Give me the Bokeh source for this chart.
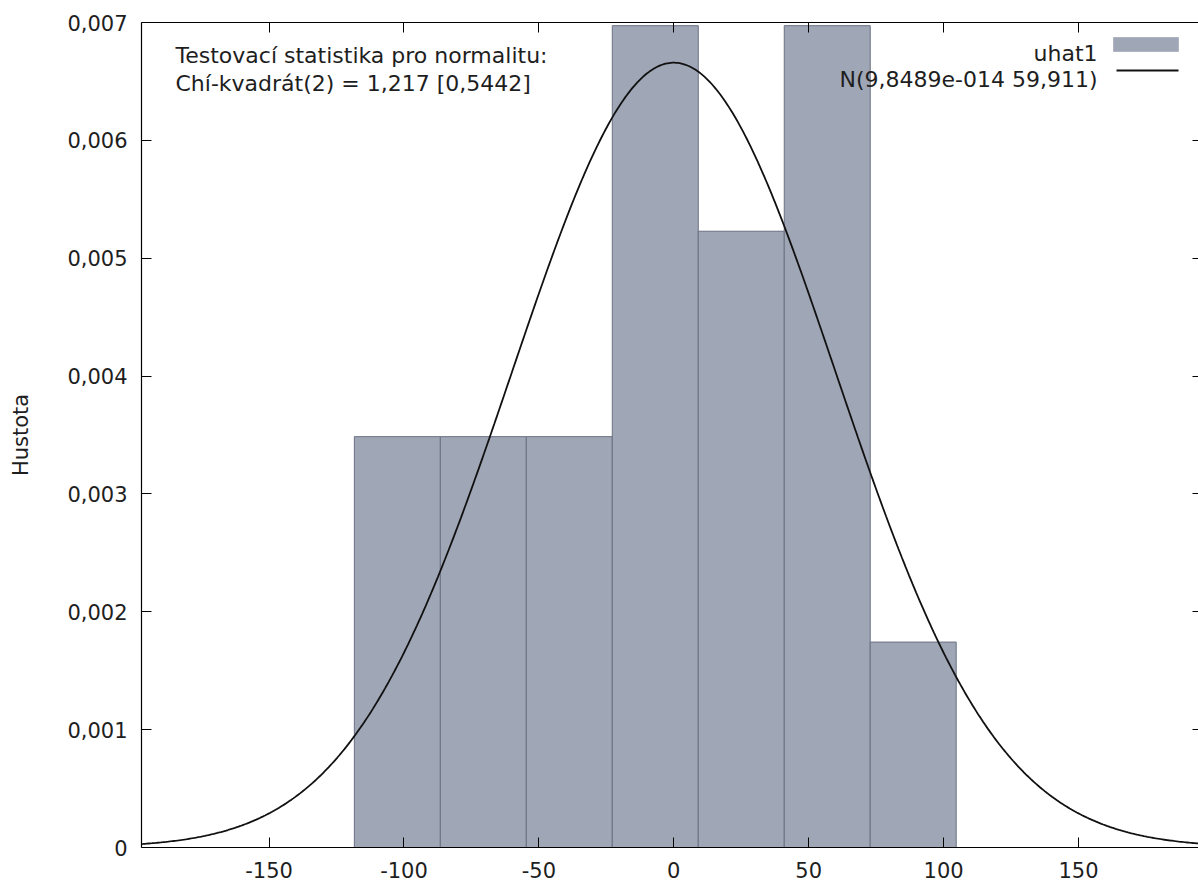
import numpy as np
from bokeh.plotting import figure
from bokeh.models import (Range1d, FixedTicker, LinearAxis, CustomJSTickFormatter,
                          Label, BoxAnnotation)
from bokeh.embed import file_html
from bokeh.resources import INLINE

# ---- data ----
bin_left = [-118.40, -86.53, -54.66, -22.79, 9.08, 40.95, 72.82]
bin_right = [-86.53, -54.66, -22.79, 9.08, 40.95, 72.82, 104.69]
density = [0.003486, 0.003486, 0.003486, 0.006973, 0.005229, 0.006973, 0.001743]
normal_mean = 9.8489e-14
normal_sd = 59.911
x_ticks = [-150, -100, -50, 0, 50, 100, 150]
y_ticks = [0, 0.001, 0.002, 0.003, 0.004, 0.005, 0.006, 0.007]
series_label = "uhat1"
curve_label = "N(9,8489e-014 59,911)"
test_lines = ["Testovací statistika pro normalitu:", "Chí-kvadrát(2) = 1,217 [0,5442]"]
y_title = "Hustota"

FONT = "DejaVu Sans"
FS = "21px"
FS_TXT = "22px"
TXT = "#1e1e1e"
BAR_FILL = "#9fa6b5"
BAR_LINE = "#6a7183"

X0, X1 = -197.3, 194.5
p = figure(width=1198, height=885, output_backend="svg", toolbar_location=None,
           x_range=Range1d(X0, X1), y_range=Range1d(0, 0.007),
           min_border_left=141, min_border_right=0, min_border_top=22, min_border_bottom=38,
           x_axis_location=None, y_axis_location=None)
p.outline_line_color = None
p.xgrid.visible = False
p.ygrid.visible = False
p.background_fill_color = "white"
p.border_fill_color = "white"

# histogram
p.quad(left=bin_left, right=bin_right, top=density, bottom=0,
       fill_color=BAR_FILL, line_color=BAR_LINE, line_width=1)

# normal density curve N(mean, sd) as named in the legend
xs = np.linspace(X0, X1, 600)
ys = np.exp(-0.5 * ((xs - normal_mean) / normal_sd) ** 2) / (normal_sd * np.sqrt(2 * np.pi))
p.line(xs, ys, line_color="#111111", line_width=1.8)

xfmt = CustomJSTickFormatter(code="return String(tick);")
yfmt = CustomJSTickFormatter(code="return tick == 0 ? '0' : tick.toFixed(3).replace('.', ',');")
empty = CustomJSTickFormatter(code="return '';")

def style(ax, labels=True):
    ax.axis_line_color = "black"
    ax.axis_line_width = 1.2
    ax.major_tick_line_color = "black"
    ax.major_tick_in = 10
    ax.major_tick_out = 0
    ax.minor_tick_line_color = None
    ax.major_label_text_font = FONT
    ax.major_label_text_font_size = FS if labels else "0px"
    ax.major_label_text_color = TXT
    if not labels:
        ax.major_label_standoff = 0
        ax.formatter = empty

bx = LinearAxis(ticker=FixedTicker(ticks=x_ticks), formatter=xfmt)
style(bx)
bx.major_label_standoff = 14
p.add_layout(bx, "below")

tx = LinearAxis(ticker=FixedTicker(ticks=x_ticks))
style(tx, labels=False)
p.add_layout(tx, "above")

ly = LinearAxis(ticker=FixedTicker(ticks=y_ticks), formatter=yfmt)
style(ly)
ly.major_label_standoff = 14
ly.axis_label = y_title
ly.axis_label_text_font = FONT
ly.axis_label_text_font_size = FS
ly.axis_label_text_font_style = "normal"
ly.axis_label_text_color = TXT
ly.axis_label_standoff = 31
p.add_layout(ly, "left")

ry = LinearAxis(ticker=FixedTicker(ticks=y_ticks))
style(ry, labels=False)
ry.axis_line_color = None
ry.major_tick_in = 6
p.add_layout(ry, "right")

# test statistic text (frame-relative screen units)
for i, t in enumerate(test_lines):
    p.add_layout(Label(x=34, y=792 - 28 * i, x_units="screen", y_units="screen", text=t,
                       text_font=FONT, text_font_size=FS_TXT, text_color=TXT,
                       text_baseline="alphabetic", text_align="left"))

# legend (label left of the key, as in the original)
p.add_layout(Label(x=956, y=794, x_units="screen", y_units="screen", text=series_label,
                   text_font=FONT, text_font_size=FS_TXT, text_color=TXT,
                   text_baseline="alphabetic", text_align="right"))
p.add_layout(Label(x=956, y=768, x_units="screen", y_units="screen", text=curve_label,
                   text_font=FONT, text_font_size=FS_TXT, text_color=TXT,
                   text_baseline="alphabetic", text_align="right"))
p.add_layout(BoxAnnotation(left=972, right=1037, top=810, bottom=796,
                           left_units="screen", right_units="screen",
                           top_units="screen", bottom_units="screen",
                           fill_color=BAR_FILL, fill_alpha=1, line_color=BAR_LINE, line_width=1))
p.add_layout(BoxAnnotation(left=975, right=1037, top=778, bottom=776,
                           left_units="screen", right_units="screen",
                           top_units="screen", bottom_units="screen",
                           fill_color="#111111", fill_alpha=1, line_color=None))

open("out.html", "w").write(file_html(p, INLINE))
